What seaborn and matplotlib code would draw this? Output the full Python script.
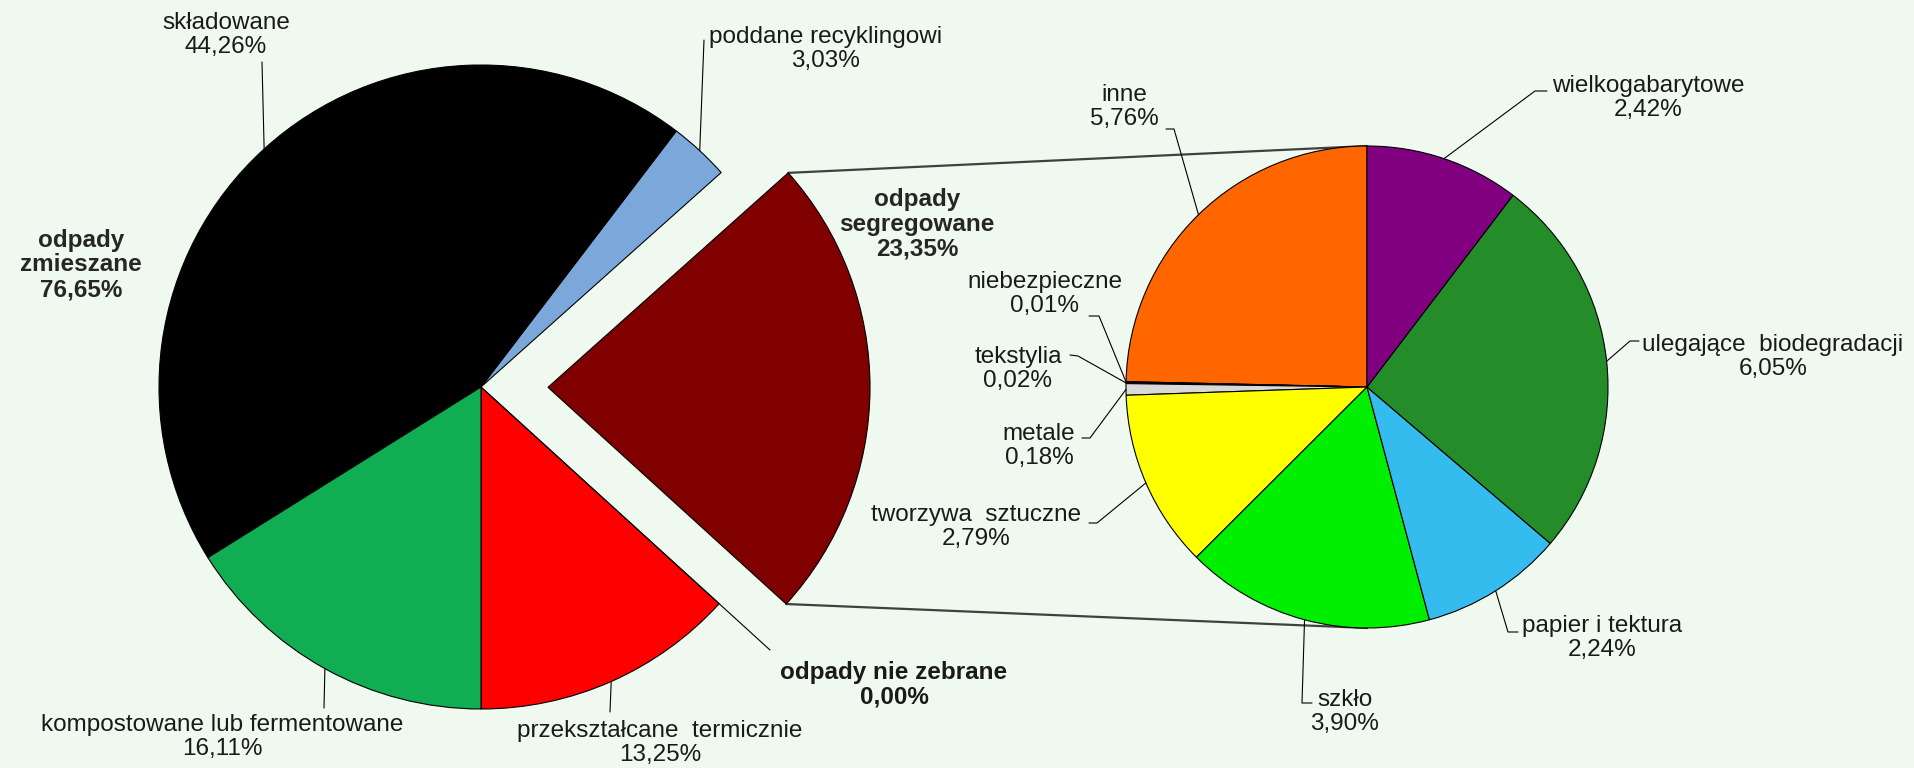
import numpy as np
import matplotlib.pyplot as plt
import seaborn as sns

W, H = 1915, 768
BG = '#f0f9ef'

# pie glowny (kolejnosc przeciwnie do wskazowek zegara od dolu)
main_names = ['przekształcane  termicznie', 'odpady nie zebrane', 'odpady segregowane',
              'poddane recyklingowi', 'składowane', 'kompostowane lub fermentowane']
main_values = [13.25, 0.00, 23.35, 3.03, 44.26, 16.11]
main_colors = ['#ff0000', '#ffffff', '#800000', '#7ba7da', '#000000', '#10ad52']

# rozbicie odpadow segregowanych
sub_names = ['inne', 'niebezpieczne', 'tekstylia', 'metale', 'tworzywa  sztuczne',
             'szkło', 'papier i tektura', 'ulegające  biodegradacji', 'wielkogabarytowe']
sub_values = [5.76, 0.01, 0.02, 0.18, 2.79, 3.90, 2.24, 6.05, 2.42]
sub_colors = ['#ff6600', '#c00000', '#404040', '#d9d9d9', '#ffff00',
              '#00ee00', '#35bcee', '#248c28', '#800080']

mixed_parts = ['składowane', 'poddane recyklingowi', 'przekształcane  termicznie',
               'kompostowane lub fermentowane']


def pct(v):
    return f'{v:.2f}'.replace('.', ',') + '%'


# pozycje etykiet (x, y obrazu) i punkty linii odniesienia
main_lab = {
    'składowane': ((226, 35), [(262, 62)]),
    'poddane recyklingowi': ((826, 49), [(704, 40)]),
    'kompostowane lub fermentowane': ((222, 737), [(324, 708)]),
    'przekształcane  termicznie': ((660, 743), [(610, 712)]),
    'odpady nie zebrane': ((894, 685), [(770, 650)]),
}
sub_lab = {
    'inne': ((1124, 107), [(1174, 129), (1166, 129)]),
    'wielkogabarytowe': ((1648, 98), [(1535, 91), (1547, 91)]),
    'ulegające  biodegradacji': ((1773, 357), [(1630, 341), (1639, 341)]),
    'papier i tektura': ((1602, 638), [(1508, 632), (1518, 632)]),
    'szkło': ((1345, 712), [(1302, 703), (1312, 703)]),
    'tworzywa  sztuczne': ((976, 527), [(1097, 523), (1089, 523)]),
    'metale': ((1039, 446), [(1090, 438), (1082, 438)]),
    'tekstylia': ((1018, 369), [(1078, 356), (1070, 355)]),
    'niebezpieczne': ((1045, 294), [(1099, 316), (1089, 316)]),
}

sns.set_theme(style='white')
plt.rcParams['font.family'] = ['Liberation Sans', 'DejaVu Sans']
FS = 17.5

fig = plt.figure(figsize=(W / 100, H / 100), dpi=100, facecolor=BG)
ax = fig.add_axes([0, 0, 1, 1])
ax.set_facecolor(BG)

explode = [67 if n == 'odpady segregowane' else 0 for n in main_names]
wp = dict(edgecolor='black', linewidth=0.8)
main_w, _ = ax.pie(main_values, colors=main_colors, startangle=270, counterclock=True,
                   radius=322, center=(481, H - 387), explode=explode, wedgeprops=wp)
sub_w, _ = ax.pie(sub_values, colors=sub_colors, startangle=90, counterclock=True,
                  radius=241, center=(1367, H - 387), wedgeprops=wp)


def rim(w, a=None):
    if a is None:
        a = 0.5 * (w.theta1 + w.theta2)
    t = np.deg2rad(a)
    return w.center[0] + w.r * np.cos(t), w.center[1] + w.r * np.sin(t)


# linie laczace oba wykresy
seg = main_w[main_names.index('odpady segregowane')]
cx, cy = sub_w[0].center
r2 = sub_w[0].r
for a, ty in [(seg.theta2, cy + r2), (seg.theta1, cy - r2)]:
    x0, y0 = rim(seg, a)
    ax.plot([x0, cx], [y0, ty], color='#404040', lw=1.6, zorder=0)


def leaders(wedges, names, labs):
    for w, n in zip(wedges, names):
        if n not in labs:
            continue
        _, pts = labs[n]
        ex, ey = rim(w)
        xs = [ex] + [p[0] for p in pts]
        ys = [ey] + [H - p[1] for p in pts]
        ax.plot(xs, ys, color='black', lw=0.8, zorder=3)


leaders(main_w, main_names, main_lab)
leaders(sub_w, sub_names, sub_lab)

for n, v in zip(main_names, main_values):
    if n in main_lab:
        (tx, ty), _ = main_lab[n]
        bold = n == 'odpady nie zebrane'
        ax.text(tx, H - ty, f'{n}\n{pct(v)}', ha='center', va='center', fontsize=FS,
                linespacing=1.1, fontweight='bold' if bold else 'normal', color='#1a1a1a')

for n, v in zip(sub_names, sub_values):
    (tx, ty), _ = sub_lab[n]
    ax.text(tx, H - ty, f'{n}\n{pct(v)}', ha='center', va='center', fontsize=FS,
            linespacing=1.1, color='#1a1a1a')

mixed = sum(v for n, v in zip(main_names, main_values) if n in mixed_parts)
ax.text(81, H - 265, f'odpady\nzmieszane\n{pct(mixed)}', ha='center', va='center',
        fontsize=FS, fontweight='bold', linespacing=1.1)
seg_v = main_values[main_names.index('odpady segregowane')]
ax.text(917, H - 224, f'odpady\nsegregowane\n{pct(seg_v)}', ha='center', va='center',
        fontsize=FS, fontweight='bold', linespacing=1.1)

ax.set_xlim(0, W)
ax.set_ylim(0, H)
ax.set_aspect('equal')
ax.axis('off')
fig.savefig('out.png', dpi=100, facecolor=BG)
